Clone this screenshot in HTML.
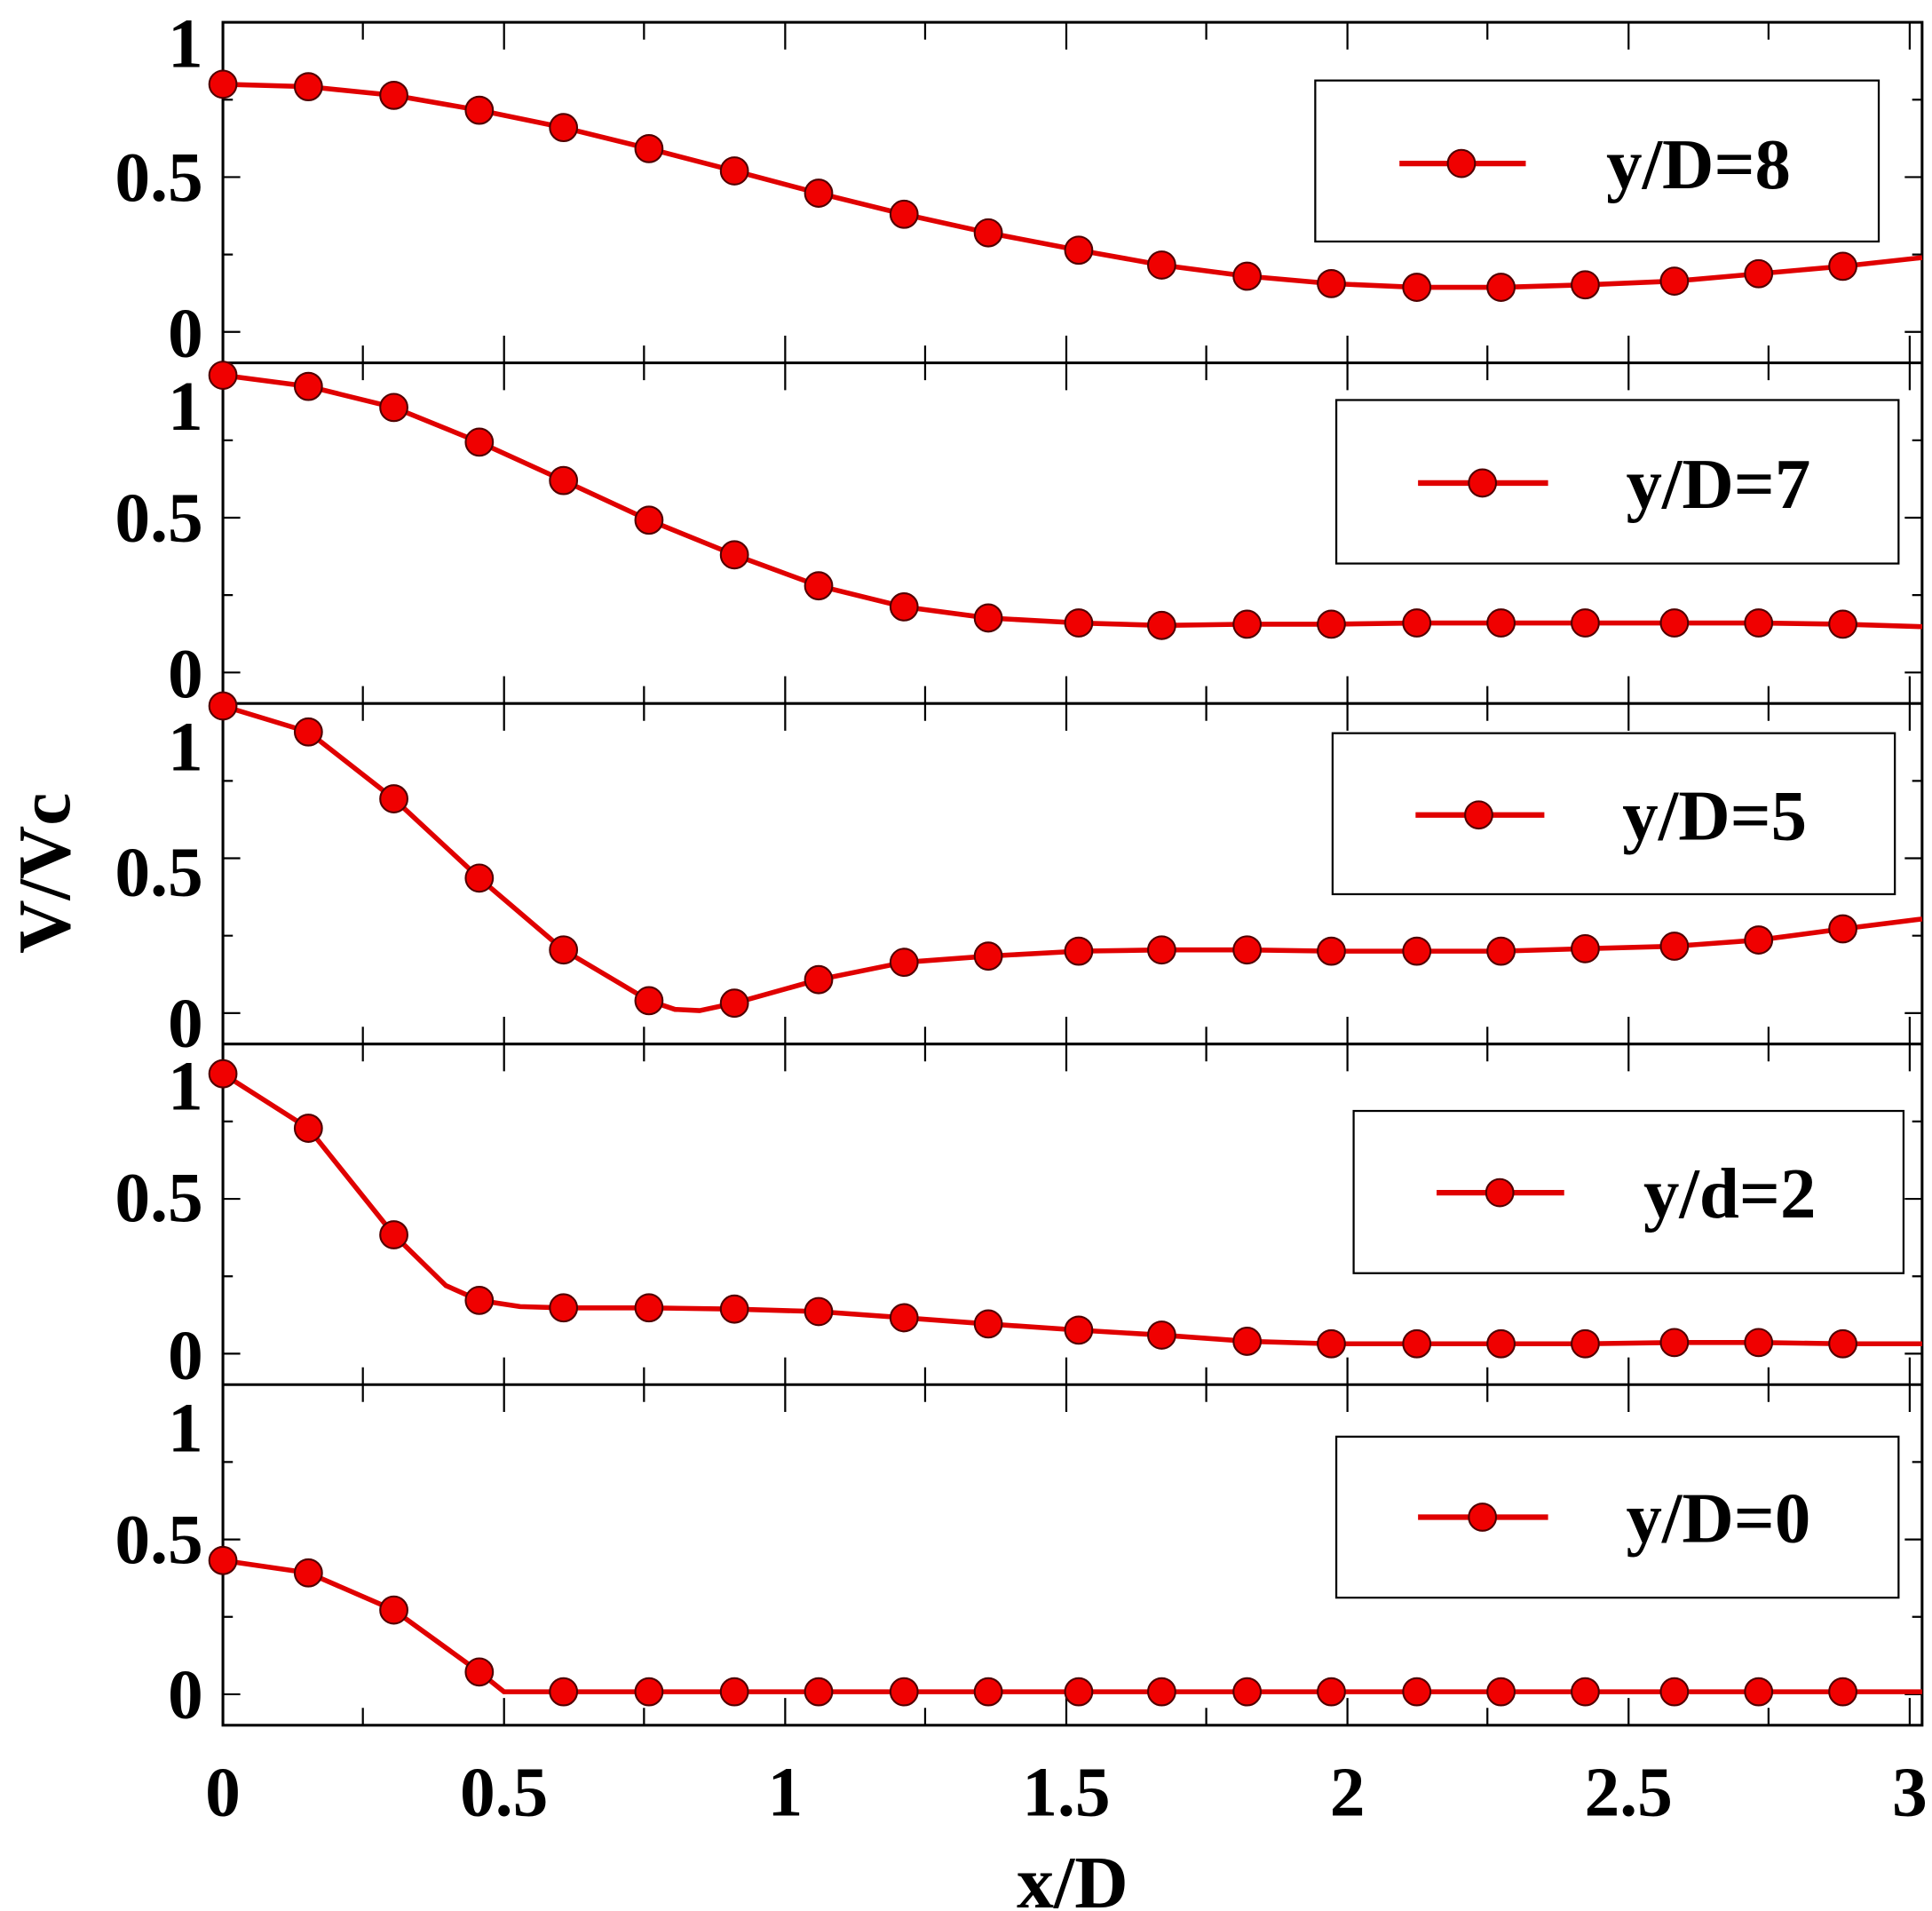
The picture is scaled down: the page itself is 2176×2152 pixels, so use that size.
<!DOCTYPE html>
<html><head><meta charset="utf-8"><style>
html,body{margin:0;padding:0;background:#fff;}
svg{display:block;}
text{font-family:"Liberation Serif",serif;font-weight:bold;fill:#000;}
</style></head><body>
<svg width="2176" height="2152" viewBox="0 0 1560 1543" preserveAspectRatio="none" xmlns="http://www.w3.org/2000/svg">
<defs>
<g id="xd" stroke="#000" stroke-width="1.6" fill="none">
<path d="M180 0v22M407 0v22M634 0v22M861 0v22M1088 0v22M1315 0v22M1542 0v22"/>
<path d="M293 0v14M520 0v14M747 0v14M974 0v14M1201 0v14M1428 0v14"/>
</g>
<g id="xu" stroke="#000" stroke-width="1.6" fill="none">
<path d="M180 0v-22M407 0v-22M634 0v-22M861 0v-22M1088 0v-22M1315 0v-22M1542 0v-22"/>
<path d="M293 0v-14M520 0v-14M747 0v-14M974 0v-14M1201 0v-14M1428 0v-14"/>
</g>
<g id="yt" stroke="#000" stroke-width="1.6" fill="none">
<path d="M180 0h14M180 -125h14M180 -250h14M1552 0h-14M1552 -125h-14M1552 -250h-14"/>
<path d="M180 -62.5h8M180 -187.5h8M1552 -62.5h-8M1552 -187.5h-8"/>
</g>
</defs>

<g stroke="#000" stroke-width="2.2" fill="none">
<rect x="180" y="18" width="1372" height="1375"/>
<path d="M180 293H1552M180 568H1552M180 843H1552M180 1118H1552"/>
</g>
<use href="#xd" y="18"/>
<use href="#xu" y="293"/><use href="#xd" y="293"/>
<use href="#xu" y="568"/><use href="#xd" y="568"/>
<use href="#xu" y="843"/><use href="#xd" y="843"/>
<use href="#xu" y="1118"/><use href="#xd" y="1118"/>
<use href="#xu" y="1393"/>
<use href="#yt" y="268"/><use href="#yt" y="543"/><use href="#yt" y="818"/><use href="#yt" y="1093"/><use href="#yt" y="1368"/>

<g font-size="57" text-anchor="end">
<text x="164" y="54">1</text><text x="164" y="162">0.5</text><text x="164" y="288">0</text>
<text x="164" y="347">1</text><text x="164" y="437">0.5</text><text x="164" y="563">0</text>
<text x="164" y="622">1</text><text x="164" y="723">0.5</text><text x="164" y="845">0</text>
<text x="164" y="896">1</text><text x="164" y="986">0.5</text><text x="164" y="1113">0</text>
<text x="164" y="1172">1</text><text x="164" y="1262">0.5</text><text x="164" y="1387">0</text>
</g>
<g font-size="57" text-anchor="middle">
<text x="180" y="1466">0</text><text x="407" y="1466">0.5</text><text x="634" y="1466">1</text>
<text x="861" y="1466">1.5</text><text x="1088" y="1466">2</text><text x="1315" y="1466">2.5</text><text x="1542" y="1466">3</text>
<text x="866" y="1540" font-size="60">x/D</text>
<text transform="translate(56,705) rotate(-90)" font-size="60">V/Vc</text>
</g>

<g fill="none" stroke="#e00000" stroke-width="4" stroke-linejoin="round">
<polyline points="180,68 249,70 318,77 387,89 455,103 524,120 593,138 661,156 730,173 798,188 871,202 938,214 1007,223 1075,229 1144,232 1212,232 1280,230 1352,227 1420,221 1488,215 1552,208"/>
<polyline points="180,303 249,312 318,329 387,357 455,388 524,420 593,448 661,473 730,490 798,499 871,503 938,505 1007,504 1075,504 1144,503 1212,503 1280,503 1352,503 1420,503 1488,504 1552,506"/>
<polyline points="180,570 249,591 318,645 387,709 455,767 524,808 545,815 565,816 593,810 661,791 730,777 798,772 871,768 938,767 1007,767 1075,768 1144,768 1212,768 1280,766 1352,764 1420,759 1488,750 1552,742"/>
<polyline points="180,867 249,911 318,997 360,1038 387,1050 420,1055 455,1056 524,1056 593,1057 661,1059 730,1064 798,1069 871,1074 938,1078 1007,1083 1075,1085 1144,1085 1212,1085 1280,1085 1352,1084 1420,1084 1488,1085 1552,1085"/>
<polyline points="180,1260 249,1270 318,1300 387,1350 407,1366 455,1366 1552,1366"/>
</g>
<g fill="#f00000" stroke="#500000" stroke-width="1.5">
<circle cx="180" cy="68" r="11"/><circle cx="249" cy="70" r="11"/><circle cx="318" cy="77" r="11"/><circle cx="387" cy="89" r="11"/><circle cx="455" cy="103" r="11"/><circle cx="524" cy="120" r="11"/><circle cx="593" cy="138" r="11"/><circle cx="661" cy="156" r="11"/><circle cx="730" cy="173" r="11"/><circle cx="798" cy="188" r="11"/><circle cx="871" cy="202" r="11"/><circle cx="938" cy="214" r="11"/><circle cx="1007" cy="223" r="11"/><circle cx="1075" cy="229" r="11"/><circle cx="1144" cy="232" r="11"/><circle cx="1212" cy="232" r="11"/><circle cx="1280" cy="230" r="11"/><circle cx="1352" cy="227" r="11"/><circle cx="1420" cy="221" r="11"/><circle cx="1488" cy="215" r="11"/>
<circle cx="180" cy="303" r="11"/><circle cx="249" cy="312" r="11"/><circle cx="318" cy="329" r="11"/><circle cx="387" cy="357" r="11"/><circle cx="455" cy="388" r="11"/><circle cx="524" cy="420" r="11"/><circle cx="593" cy="448" r="11"/><circle cx="661" cy="473" r="11"/><circle cx="730" cy="490" r="11"/><circle cx="798" cy="499" r="11"/><circle cx="871" cy="503" r="11"/><circle cx="938" cy="505" r="11"/><circle cx="1007" cy="504" r="11"/><circle cx="1075" cy="504" r="11"/><circle cx="1144" cy="503" r="11"/><circle cx="1212" cy="503" r="11"/><circle cx="1280" cy="503" r="11"/><circle cx="1352" cy="503" r="11"/><circle cx="1420" cy="503" r="11"/><circle cx="1488" cy="504" r="11"/>
<circle cx="180" cy="570" r="11"/><circle cx="249" cy="591" r="11"/><circle cx="318" cy="645" r="11"/><circle cx="387" cy="709" r="11"/><circle cx="455" cy="767" r="11"/><circle cx="524" cy="808" r="11"/><circle cx="593" cy="810" r="11"/><circle cx="661" cy="791" r="11"/><circle cx="730" cy="777" r="11"/><circle cx="798" cy="772" r="11"/><circle cx="871" cy="768" r="11"/><circle cx="938" cy="767" r="11"/><circle cx="1007" cy="767" r="11"/><circle cx="1075" cy="768" r="11"/><circle cx="1144" cy="768" r="11"/><circle cx="1212" cy="768" r="11"/><circle cx="1280" cy="766" r="11"/><circle cx="1352" cy="764" r="11"/><circle cx="1420" cy="759" r="11"/><circle cx="1488" cy="750" r="11"/>
<circle cx="180" cy="867" r="11"/><circle cx="249" cy="911" r="11"/><circle cx="318" cy="997" r="11"/><circle cx="387" cy="1050" r="11"/><circle cx="455" cy="1056" r="11"/><circle cx="524" cy="1056" r="11"/><circle cx="593" cy="1057" r="11"/><circle cx="661" cy="1059" r="11"/><circle cx="730" cy="1064" r="11"/><circle cx="798" cy="1069" r="11"/><circle cx="871" cy="1074" r="11"/><circle cx="938" cy="1078" r="11"/><circle cx="1007" cy="1083" r="11"/><circle cx="1075" cy="1085" r="11"/><circle cx="1144" cy="1085" r="11"/><circle cx="1212" cy="1085" r="11"/><circle cx="1280" cy="1085" r="11"/><circle cx="1352" cy="1084" r="11"/><circle cx="1420" cy="1084" r="11"/><circle cx="1488" cy="1085" r="11"/>
<circle cx="180" cy="1260" r="11"/><circle cx="249" cy="1270" r="11"/><circle cx="318" cy="1300" r="11"/><circle cx="387" cy="1350" r="11"/><circle cx="455" cy="1366" r="11"/><circle cx="524" cy="1366" r="11"/><circle cx="593" cy="1366" r="11"/><circle cx="661" cy="1366" r="11"/><circle cx="730" cy="1366" r="11"/><circle cx="798" cy="1366" r="11"/><circle cx="871" cy="1366" r="11"/><circle cx="938" cy="1366" r="11"/><circle cx="1007" cy="1366" r="11"/><circle cx="1075" cy="1366" r="11"/><circle cx="1144" cy="1366" r="11"/><circle cx="1212" cy="1366" r="11"/><circle cx="1280" cy="1366" r="11"/><circle cx="1352" cy="1366" r="11"/><circle cx="1420" cy="1366" r="11"/><circle cx="1488" cy="1366" r="11"/>
</g>

<g fill="#fff" stroke="#000" stroke-width="1.6">
<rect x="1062" y="65" width="455" height="130"/>
<rect x="1079" y="323" width="454" height="132"/>
<rect x="1076" y="592" width="454" height="130"/>
<rect x="1093" y="897" width="444" height="131"/>
<rect x="1079" y="1160" width="454" height="130"/>
</g>
<g stroke="#e00000" stroke-width="4.5">
<path d="M1130 132H1232M1145 390H1250M1143 658H1247M1160 963H1263M1145 1225H1250"/>
</g>
<g fill="#f00000" stroke="#500000" stroke-width="1.5">
<circle cx="1180" cy="132" r="11"/><circle cx="1197" cy="390" r="11"/><circle cx="1194" cy="658" r="11"/><circle cx="1211" cy="963" r="11"/><circle cx="1197" cy="1225" r="11"/>
</g>
<g font-size="58">
<text x="1297" y="152">y/D=8</text>
<text x="1313" y="410">y/D=7</text>
<text x="1310" y="678">y/D=5</text>
<text x="1327" y="983">y/d=2</text>
<text x="1313" y="1245">y/D=0</text>
</g>
</svg>
</body></html>
